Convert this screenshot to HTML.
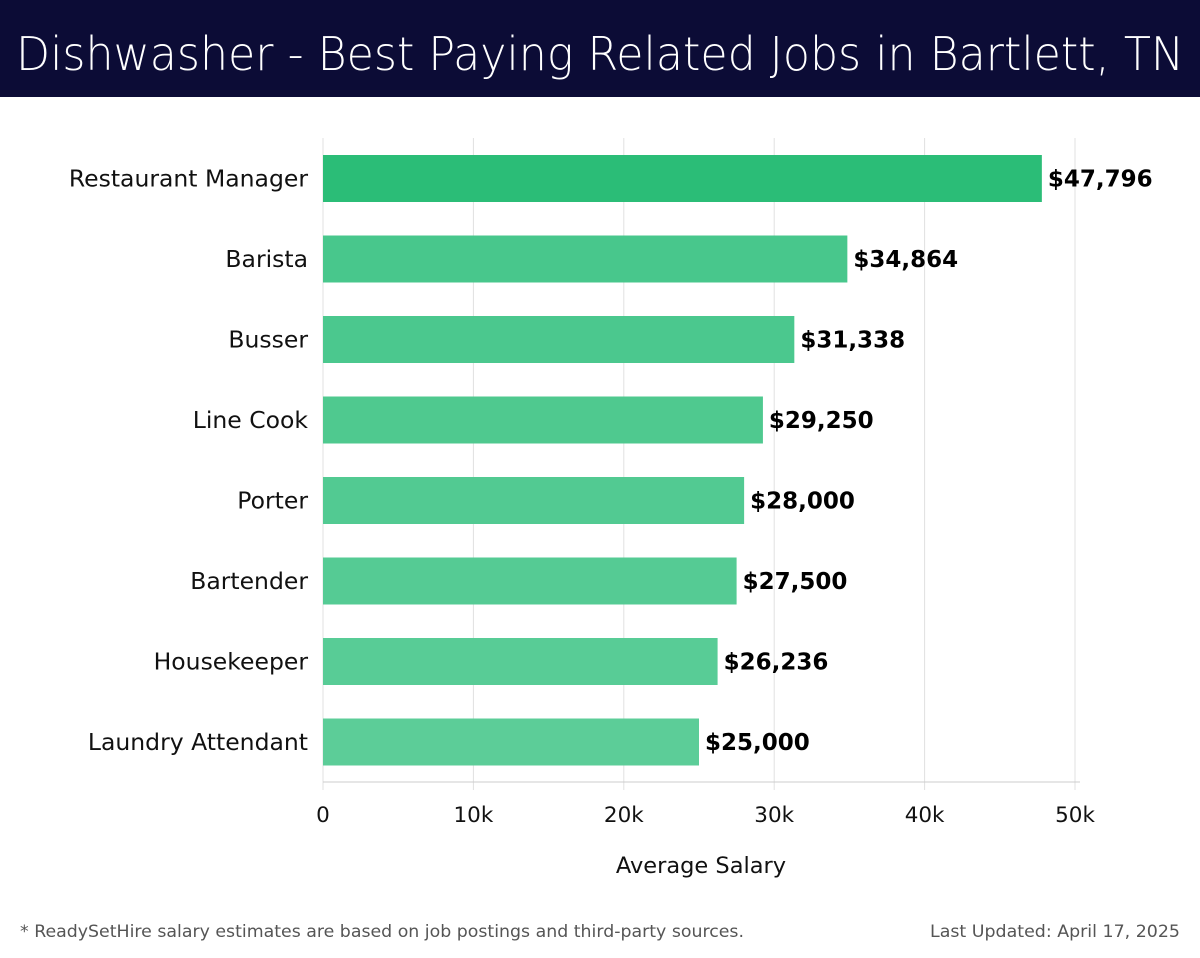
<!DOCTYPE html>
<html><head><meta charset="utf-8"><style>
body{margin:0;width:1200px;height:958px;background:#fff;font-family:"DejaVu Sans","Liberation Sans",sans-serif;overflow:hidden}
svg{position:absolute;left:0;top:0}
</style></head><body>
<svg id="chart" width="1200" height="958">
<rect x="0" y="0" width="1200" height="97" fill="#0c0c36"/>
<text x="16" y="70" font-size="46" fill="#fff" textLength="1168" lengthAdjust="spacingAndGlyphs" font-family="DejaVu Sans" font-weight="300">Dishwasher - Best Paying Related Jobs in Bartlett, TN</text>
</svg>
<script>
const categories=["Restaurant Manager","Barista","Busser","Line Cook","Porter","Bartender","Housekeeper","Laundry Attendant"];
const values=[47796,34864,31338,29250,28000,27500,26236,25000];
const valueLabels=["$47,796","$34,864","$31,338","$29,250","$28,000","$27,500","$26,236","$25,000"];
const ticks=[0,10000,20000,30000,40000,50000];
const tickLabels=["0","10k","20k","30k","40k","50k"];
const colors=["#2bbd77","#48c78c","#4bc88e","#4fc98f","#52ca92","#55cb94","#58cc96","#5ccd98"];
const svg=document.getElementById('chart');const NS='http://www.w3.org/2000/svg';
const x0=323,x1=1075,max=50000;
const xs=v=>x0+(v/max)*(x1-x0);
const yTop=138,step=80.5,bh=47;
const yc=i=>178.5+i*step;
function mk(t,a){const e=document.createElementNS(NS,t);for(const k in a)e.setAttribute(k,a[k]);svg.appendChild(e);return e;}
ticks.forEach((t,i)=>{
 const g=mk('line',{x1:xs(t),x2:xs(t),y1:yTop,y2:790,stroke:'#e0e0e0','stroke-width':1});
 
 
 const l=mk('text',{x:xs(t),y:822,'text-anchor':'middle','font-size':21.5,fill:'#111'});l.textContent=tickLabels[i];
 
 
});
const ax=mk('line',{x1:x0,x2:1080,y1:782,y2:782,stroke:'#ccc','stroke-width':1});


categories.forEach((c,i)=>{
 const r=mk('rect',{x:x0,y:yc(i)-bh/2,width:xs(values[i])-x0,height:bh,fill:colors[i]});
 
 
 const l=mk('text',{x:308,y:yc(i)+8,'text-anchor':'end','font-size':23.5,fill:'#111'});l.textContent=c;
 
 
 const v=mk('text',{x:xs(values[i])+6,y:yc(i)+8,'font-size':23,'font-weight':'bold',fill:'#000'});v.textContent=valueLabels[i];
 
 
});
const at=mk('text',{x:701,y:873,'text-anchor':'middle','font-size':22.5,fill:'#111'});at.textContent='Average Salary';


const f1=mk('text',{x:20,y:937,'font-size':17,fill:'#555',textLength:724,lengthAdjust:'spacingAndGlyphs'});f1.textContent='* ReadySetHire salary estimates are based on job postings and third-party sources.';


const f2=mk('text',{x:930,y:937,'font-size':17,fill:'#555',textLength:250,lengthAdjust:'spacingAndGlyphs'});f2.textContent='Last Updated: April 17, 2025';


</script>
</body></html>
